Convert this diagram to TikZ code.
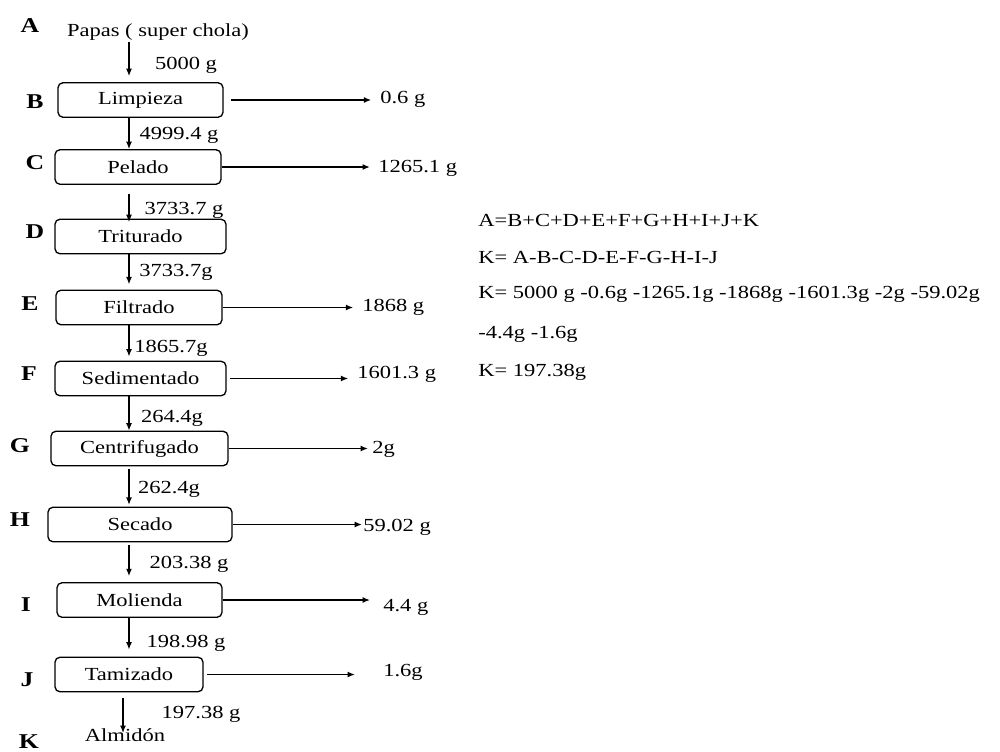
\documentclass[tikz,border=0pt]{standalone}
\usepackage{fontspec}
\setmainfont{Liberation Serif}[FakeStretch=1.22]
\usetikzlibrary{arrows.meta}
\begin{document}
\begin{tikzpicture}[x=0.02cm, y=-0.02cm,
  every node/.style={font=\fontsize{10.5}{12}\selectfont, inner sep=1pt},
  stage/.style={rectangle, draw, line width=0.75pt, rounded corners=2.8pt,
                minimum height=0.69cm, inner sep=0pt},
  letter/.style={font=\fontsize{12}{14}\selectfont\bfseries},
  loss/.style={anchor=west, inner sep=0pt},
  eq/.style={anchor=west, inner sep=0pt},
  arrow/.style={-{Latex[length=4.2pt,width=3.4pt]}, line width=0.75pt},
  lossarrow/.style={arrow, shorten >=5pt}
]
  \useasboundingbox (0,0) rectangle (1000,751);
  \coordinate (axis) at (129,0);

  % step letters
  \node[letter] (lA) at (30,26) {A};
  \node[letter] (lB) at (35,102) {B};
  \node[letter] (lC) at (35,163) {C};
  \node[letter] (lD) at (35,232) {D};
  \node[letter] (lE) at (30,304) {E};
  \node[letter] (lF) at (29,374) {F};
  \node[letter] (lG) at (20,446) {G};
  \node[letter] (lH) at (20,520) {H};
  \node[letter] (lI) at (26,605) {I};
  \node[letter] (lJ) at (27,680) {J};
  \node[letter] (lK) at (29,742) {K};

  % process
  \node (P) at (158,32) {Papas ( super chola)};
  \node[stage, minimum width=3.30cm] (B) at (140.5,100) {Limpieza};
  \node[stage, minimum width=3.32cm] (C) at (138,167) {Pelado};
  \node[stage, minimum width=3.42cm] (D) at (140.5,236.5) {Triturado};
  \node[stage, minimum width=3.32cm] (E) at (139,307.5) {Filtrado};
  \node[stage, minimum width=3.42cm] (F) at (140.5,378.5) {Sedimentado};
  \node[stage, minimum width=3.54cm] (G) at (139.5,448.5) {Centrifugado};
  \node[stage, minimum width=3.68cm] (H) at (140,524.5) {Secado};
  \node[stage, minimum width=3.30cm] (I) at (139.5,600) {Molienda};
  \node[stage, minimum width=2.96cm] (J) at (129,674.5) {Tamizado};
  \node (K) at (125,735) {Almidón};
  \coordinate (Kin) at (123,733);

  % mass in each stream
  \node (mB) at (186,65) {5000 g};
  \node (mC) at (179,135) {4999.4 g};
  \node (mD) at (184,210) {3733.7 g};
  \node (mE) at (176,272) {3733.7g};
  \node (mF) at (171,348) {1865.7g};
  \node (mG) at (172,418) {264.4g};
  \node (mH) at (169,489) {262.4g};
  \node (mI) at (189,564) {203.38 g};
  \node (mJ) at (186,643) {198.98 g};
  \node (mK) at (201,714) {197.38 g};

  % losses
  \node[loss] (b) at (380,99) {0.6 g};
  \node[loss] (c) at (378,168) {1265.1 g};
  \node[loss] (e) at (362,307) {1868 g};
  \node[loss] (f) at (357,374) {1601.3 g};
  \node[loss] (g) at (372,449) {2g};
  \node[loss] (h) at (363,527) {59.02 g};
  \node[loss] (i) at (383,607) {4.4 g};
  \node[loss] (j) at (383,672) {1.6g};

  % balance
  \node[eq] (eq1) at (478,220) {A=B+C+D+E+F+G+H+I+J+K};
  \node[eq] (eq2) at (478,257) {K= A-B-C-D-E-F-G-H-I-J};
  \node[eq] (eq3) at (478,294) {K= 5000 g -0.6g -1265.1g -1868g -1601.3g -2g -59.02g};
  \node[eq] (eq4) at (478,334) {-4.4g -1.6g};
  \node[eq] (eq5) at (478,372) {K= 197.38g};

  \draw[arrow, shorten >=3.4pt] (P.south -| axis) -- (B.north -| axis);
  \draw[arrow] (B.south -| axis) -- (C.north -| axis);
  \draw[arrow, shorten <=5pt, shorten >=-2pt] (C.south -| axis) -- (D.north -| axis);
  \draw[arrow, shorten >=3pt] (D.south -| axis) -- (E.north -| axis);
  \draw[arrow, shorten >=2.3pt] (E.south -| axis) -- (F.north -| axis);
  \draw[arrow] (F.south -| axis) -- (G.north -| axis);
  \draw[arrow, shorten <=1.5pt, shorten >=1pt] (G.south -| axis) -- (H.north -| axis);
  \draw[arrow, shorten <=1.5pt, shorten >=3.4pt] (H.south -| axis) -- (I.north -| axis);
  \draw[arrow, shorten >=4pt] (I.south -| axis) -- (J.north -| axis);
  \draw[arrow, shorten <=3.4pt] (J.south -| Kin) -- (Kin);

  \draw[lossarrow, shorten <=4pt] (B) -- (B -| b.west);
  \draw[lossarrow, shorten >=4.6pt] (C) -- (C -| c.west);
  \draw[lossarrow] (E) -- (E -| e.west);
  \draw[lossarrow, shorten <=2pt] (F) -- (F -| f.west);
  \draw[lossarrow, shorten >=2.3pt] (G) -- (G -| g.west);
  \draw[lossarrow, shorten >=0.6pt] (H) -- (H -| h.west);
  \draw[lossarrow, shorten >=7.4pt] (I) -- (I -| i.west);
  \draw[lossarrow, shorten <=2pt, shorten >=16pt] (J) -- (J -| j.west);
\end{tikzpicture}
\end{document}
